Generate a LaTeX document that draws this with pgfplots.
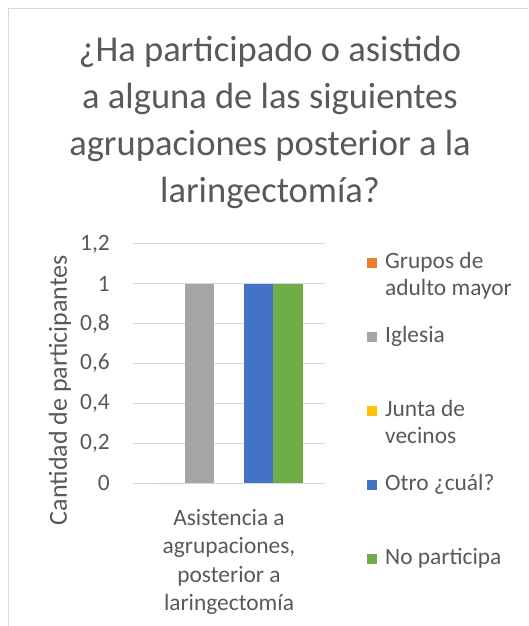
\documentclass[border=0pt]{standalone}
\usepackage{fontspec}
\setmainfont{Carlito}
\usepackage{pgfplots}
\pgfplotsset{compat=1.18}
\definecolor{cOrange}{HTML}{ED7D31}
\definecolor{cGray}{HTML}{A5A5A5}
\definecolor{cYellow}{HTML}{FFC000}
\definecolor{cBlue}{HTML}{4472C4}
\definecolor{cGreen}{HTML}{70AD47}
\definecolor{cGrid}{HTML}{D9D9D9}
\definecolor{cText}{HTML}{595959}
\definecolor{cBorder}{HTML}{D9D9D9}
\pgfplotsset{sqlegend/.style={legend image code/.code={\fill[##1] (0pt,0pt) rectangle (10pt,10pt);}}}
\newcommand{\legtxt}[1]{\parbox[t][74pt][t]{140pt}{\raggedright\fontsize{23.4}{27.5}\selectfont\strut #1}}
\newcommand{\xlab}{\parbox[t]{200pt}{\centering\fontsize{23.4}{28.5}\selectfont\strut Asistencia a\\agrupaciones,\\posterior a\\laringectomía}}
\begin{document}
\begin{tikzpicture}
\useasboundingbox (0pt,0pt) rectangle (528pt,626pt);
\fill[white] (0pt,0pt) rectangle (528pt,626pt);
\draw[cBorder, line width=1pt] (8pt,0pt) -- (8pt,617pt) -- (528pt,617pt);
\begin{axis}[
  at={(133pt,143pt)}, anchor=south west,
  scale only axis, width=192pt, height=239pt,
  ybar=0pt, bar width=29.5pt,
  xmin=-1, xmax=1, ymin=0, ymax=1.2,
  xtick={0},
  xticklabels={\xlab},
  ytick={0,0.2,0.4,0.6,0.8,1,1.2},
  /pgf/number format/use comma,
  /pgf/number format/assume math mode=true,
  ymajorgrids, grid style={cGrid, line width=1pt},
  axis line style={draw=none},
  tick style={draw=none},
  yticklabel style={font=\fontsize{23.4}{28}\selectfont, text=cText, inner sep=0pt, xshift=-23pt},
  xticklabel style={text=cText, inner sep=0pt, anchor=base, yshift=-38pt},
  every axis title shift=0pt,
  title={\parbox[t]{480pt}{\centering\fontsize{36.5}{46.7}\selectfont ¿Ha participado o asistido\\a alguna de las siguientes\\agrupaciones posterior a la\\laringectomía?}},
  title style={at={(rel axis cs:0.7135,1.7615)}, anchor=base, inner sep=0pt, text=cText},
  ylabel={Cantidad de participantes},
  ylabel style={at={(rel axis cs:-0.344,0.389)}, anchor=base, inner sep=0pt, font=\fontsize{26}{30}\selectfont, text=cText},
  legend style={at={(rel axis cs:1.21875,0.980)}, anchor=north west, draw=none, fill=none,
    inner sep=0pt, row sep=0pt, column sep=8pt, text=cText,
    nodes={inner sep=0pt, text depth=}, cells={anchor=base west}},
]
\addplot[fill=cOrange, draw=none, sqlegend] coordinates {(0,0)};
\addlegendentry{\legtxt{Grupos de\\adulto mayor}}
\addplot[fill=cGray, draw=none, sqlegend] coordinates {(0,1)};
\addlegendentry{\legtxt{Iglesia}}
\addplot[fill=cYellow, draw=none, sqlegend] coordinates {(0,0)};
\addlegendentry{\legtxt{Junta de\\vecinos}}
\addplot[fill=cBlue, draw=none, sqlegend] coordinates {(0,1)};
\addlegendentry{\legtxt{Otro ¿cuál?}}
\addplot[fill=cGreen, draw=none, sqlegend] coordinates {(0,1)};
\addlegendentry{\legtxt{No participa}}
\end{axis}
\end{tikzpicture}
\end{document}
